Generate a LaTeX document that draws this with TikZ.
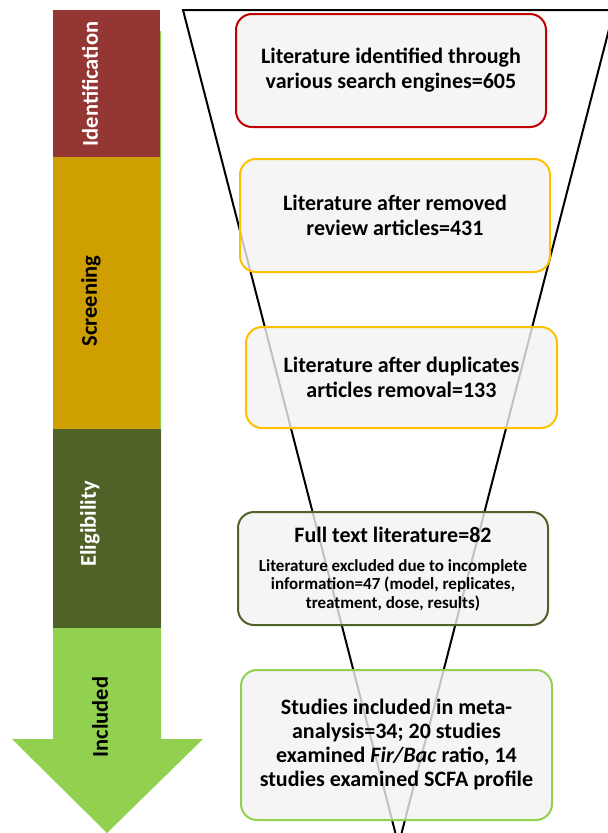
\documentclass[tikz,border=0pt]{standalone}
\usepackage{fontspec}
\setmainfont{Carlito}
\definecolor{idred}{HTML}{943634}
\definecolor{scrgold}{HTML}{CF9E00}
\definecolor{eligolive}{HTML}{4F6228}
\definecolor{inclgreen}{HTML}{92D050}
\definecolor{bordred}{HTML}{C00000}
\definecolor{bordyellow}{HTML}{FFC000}
\definecolor{boxfill}{HTML}{F2F2F2}
\tikzset{
  stagebox/.style={rounded corners=16pt, line width=2pt, fill=boxfill, fill opacity=0.8, text opacity=1,
    align=center, font=\fontsize{22}{25}\selectfont\bfseries, inner sep=0pt},
  sidelabel/.style={rotate=90, font=\fontsize{22.5}{26}\selectfont\bfseries, inner sep=0pt},
  funnel/.style={line width=2pt, black}
}
\begin{document}
\begin{tikzpicture}[x=1pt,y=-1pt]
\useasboundingbox (0,0) rectangle (608,833);
\clip (0,0) rectangle (608,833);
% funnel
\coordinate (tl) at (183,10);
\coordinate (tr) at (614,10);
\coordinate (apex) at (398.5,845);
\draw[funnel, line join=miter] (tl) -- (tr) -- (apex) -- cycle;
% green arrow behind bar
\fill[inclgreen] (53,31) -- (161,31) -- (161,739) -- (203,739) -- (107,833) -- (12,739) -- (53,739) -- cycle;
% bar segments
\fill[idred] (53,10) rectangle (160,157);
\fill[scrgold] (53,157) rectangle (160,429);
\fill[eligolive] (53,429) rectangle (161,628);
% side labels
\node[sidelabel, text=white] (lid) at (90,84) {Identification};
\node[sidelabel, text=black] (lscr) at (91,301) {Screening};
\node[sidelabel, text=white] (lelig) at (90,524) {Eligibility};
\node[sidelabel, text=black] (linc) at (100,717) {Included};
% boxes
\node[stagebox, draw=bordred, minimum width=310pt, minimum height=113pt] (b1) at (391,70.5)
  {Literature identified through\\various search engines=605};
\node[stagebox, draw=bordyellow, minimum width=310pt, minimum height=113pt] (b2) at (395,215.5)
  {Literature after removed\\review articles=431};
\node[stagebox, draw=bordyellow, minimum width=311pt, minimum height=101pt] (b3) at (401.5,377.5)
  {Literature after duplicates\\articles removal=133};
\node[stagebox, draw=eligolive, minimum width=310pt, minimum height=113pt] (b4) at (393,568.5)
  {\rule{0pt}{0pt}};
\node[font=\fontsize{22}{25}\selectfont\bfseries, inner sep=0pt] (b4t) at (393,535) {Full text literature=82};
\node[font=\fontsize{17}{18.5}\selectfont\bfseries, align=center, inner sep=0pt] (b4s) at (393,585)
  {Literature excluded due to incomplete\\information=47 (model, replicates,\\treatment, dose, results)};
\node[stagebox, draw=inclgreen, font=\fontsize{22}{24}\selectfont\bfseries, minimum width=311pt, minimum height=150pt] (b5) at (396.5,745)
  {Studies included in meta-\\analysis=34; 20 studies\\examined \textit{Fir/Bac} ratio, 14\\studies examined SCFA profile};
\end{tikzpicture}
\end{document}
